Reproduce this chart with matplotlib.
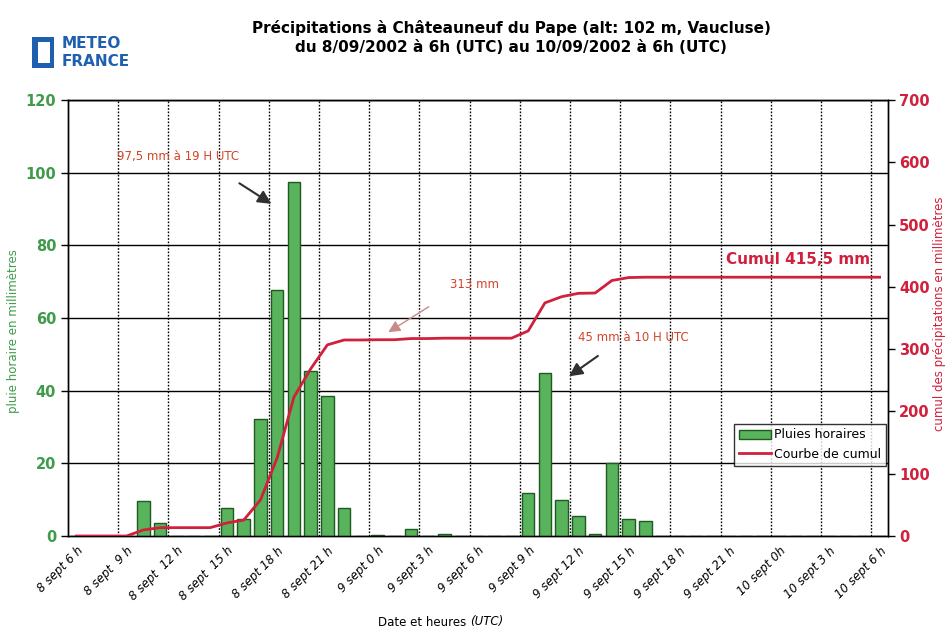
import matplotlib
matplotlib.use("Agg")
import matplotlib.pyplot as plt
from matplotlib.patches import Rectangle
import numpy as np

# ---- data ----
tick_labels = ["8 sept 6 h", "8 sept  9 h", "8 sept  12 h", "8 sept  15 h", "8 sept 18 h",
               "8 sept 21 h", "9 sept 0 h", "9 sept 3 h", "9 sept 6 h", "9 sept 9 h",
               "9 sept 12 h", "9 sept 15 h", "9 sept 18 h", "9 sept 21 h", "10 sept 0h",
               "10 sept 3 h", "10 sept 6 h"]
# hourly rain (mm), one value per hour from 8 sept 6h to 10 sept 6h (49 categories)
hourly_rain = [0, 0, 0, 0, 9.7, 3.7, 0, 0, 0, 7.6,
               4.6, 32.3, 67.6, 97.5, 45.3, 38.6, 7.8, 0, 0.4, 0,
               1.9, 0, 0.6, 0, 0, 0, 0, 11.7, 45.0, 9.9,
               5.4, 0.5, 20.1, 4.7, 4.2, 0, 0, 0, 0, 0,
               0, 0, 0, 0, 0, 0, 0, 0, 0]
# cumulative rain (mm)
cumul = [0, 0, 0, 0, 9.7, 13.4, 13.4, 13.4, 13.4, 21.0,
         25.6, 57.9, 125.5, 223.0, 268.3, 306.9, 314.7, 314.7, 315.1, 315.1,
         317.0, 317.0, 317.6, 317.6, 317.6, 317.6, 317.6, 329.3, 374.3, 384.2,
         389.6, 390.1, 410.2, 414.9, 415.5, 415.5, 415.5, 415.5, 415.5, 415.5,
         415.5, 415.5, 415.5, 415.5, 415.5, 415.5, 415.5, 415.5, 415.5]

GREEN_TXT = "#3f9b4a"
RED = "#d0203c"
ORANGE_RED = "#d2452a"

fig = plt.figure(figsize=(9.47, 6.31), dpi=100)
ax = fig.add_axes([68/947, 1-536/631, (888-68)/947, (536-100)/631])
ax2 = ax.twinx()

n = len(hourly_rain)
centers = np.arange(n) + 0.5

# grid
for v in range(20, 121, 20):
    ax.axhline(v, color="black", lw=1.0, zorder=1)
for xg in range(3, 49, 3):
    ax.axvline(xg, color="black", lw=1.0, ls=(0, (1.2, 1.2)), zorder=1)

bars = ax.bar(centers, hourly_rain, width=0.75, color="#58b35c", edgecolor="#1f5a22",
              lw=1.0, zorder=3, label="Pluies horaires")

ax.set_xlim(0, n)
ax.set_ylim(0, 120)
ax2.set_ylim(0, 700)
ax.set_yticks(range(0, 121, 20))
ax2.set_yticks(range(0, 701, 100))

line, = ax2.plot(centers, cumul, color=RED, lw=2.0, zorder=4, label="Courbe de cumul")

ax.set_xticks(centers[::3])
ax.set_xticklabels(tick_labels, rotation=45, ha="right", rotation_mode="anchor",
                   fontsize=8.5, style="italic", family="Liberation Sans Narrow")
ax.tick_params(axis="x", length=0, pad=6)
ax.tick_params(axis="y", colors="black", labelcolor=GREEN_TXT, labelsize=10.5, length=5, width=1)
ax2.tick_params(axis="y", colors="black", labelcolor=RED, labelsize=10.5, length=5, width=1, pad=3)
for lab in ax.get_yticklabels():
    lab.set_fontweight("bold")
for lab in ax2.get_yticklabels():
    lab.set_fontweight("bold")

for a in (ax, ax2):
    for s in a.spines.values():
        s.set_linewidth(1.0)
ax2.set_zorder(ax.get_zorder() + 1)
ax2.patch.set_visible(False)

ax.set_ylabel("pluie horaire en millimètres", color=GREEN_TXT, fontsize=8.5)
ax.yaxis.set_label_coords((20 - 68) / 820, 0.47)
ax2.set_ylabel("cumul des précipitations en millimètres", color=RED, fontsize=8.5)
ax2.yaxis.set_label_coords((933 - 68) / 820, 0.51)

# annotations
ax.text(2.9, 104.5, "97,5 mm à 19 H UTC", color=ORANGE_RED, fontsize=8.5, va="center")
ax.annotate("", xy=(12.3, 91.0), xytext=(10.1, 97.5),
            arrowprops=dict(arrowstyle="-|>,head_length=0.8,head_width=0.4",
                            color="#303030", lw=1.5))
ax.text(22.8, 69.3, "313 mm", color=ORANGE_RED, fontsize=8.5, va="center")
ax.annotate("", xy=(19.0, 55.7), xytext=(21.7, 63.5),
            arrowprops=dict(arrowstyle="-|>,head_length=0.7,head_width=0.35",
                            color="#c88a8a", lw=1.0))
ax.text(30.5, 54.5, "45 mm à 10 H UTC", color=ORANGE_RED, fontsize=8.5, va="center")
ax.annotate("", xy=(29.8, 43.5), xytext=(31.8, 50.0),
            arrowprops=dict(arrowstyle="-|>,head_length=0.8,head_width=0.4",
                            color="#303030", lw=1.5))
ax.text(39.3, 76.0, "Cumul 415,5 mm", color=RED, fontsize=11, fontweight="bold", va="center")

leg = ax.legend(handles=[bars, line], loc="lower left", bbox_to_anchor=((728-68)/820, (536-472)/436),
                fontsize=9, frameon=True, fancybox=False, edgecolor="black",
                handlelength=2.5, handletextpad=0.3, borderpad=0.4, labelspacing=0.5)
leg.get_frame().set_linewidth(1.0)
leg.remove()
ax2.add_artist(leg)

# titles
fig.text(0.54, 1-28/631, "Précipitations à Châteauneuf du Pape (alt: 102 m, Vaucluse)",
         ha="center", va="center", fontsize=11, fontweight="bold")
fig.text(0.54, 1-48/631, "du 8/09/2002 à 6h (UTC) au 10/09/2002 à 6h (UTC)",
         ha="center", va="center", fontsize=11, fontweight="bold")

# logo
fig.patches.append(Rectangle((32/947, 1-68/631), 22/947, 31/631, transform=fig.transFigure,
                             facecolor="#1f5fb0", edgecolor="none"))
fig.patches.append(Rectangle((38/947, 1-63/631), 12/947, 21/631, transform=fig.transFigure,
                             facecolor="white", edgecolor="none"))
fig.text(62/947, 1-44/631, "METEO", color="#1f5fb0", fontsize=11, fontweight="bold",
         va="center", family="Liberation Sans Narrow")
fig.text(62/947, 1-61/631, "FRANCE", color="#1f5fb0", fontsize=11, fontweight="bold",
         va="center", family="Liberation Sans Narrow")

# x label
fig.text(470/947, 1-622/631, "Date et heures ", ha="right", va="center", fontsize=8.5)
fig.text(470/947, 1-622/631, "(UTC)", ha="left", va="center", fontsize=8.5, style="italic")

fig.savefig("out.png", dpi=100)
